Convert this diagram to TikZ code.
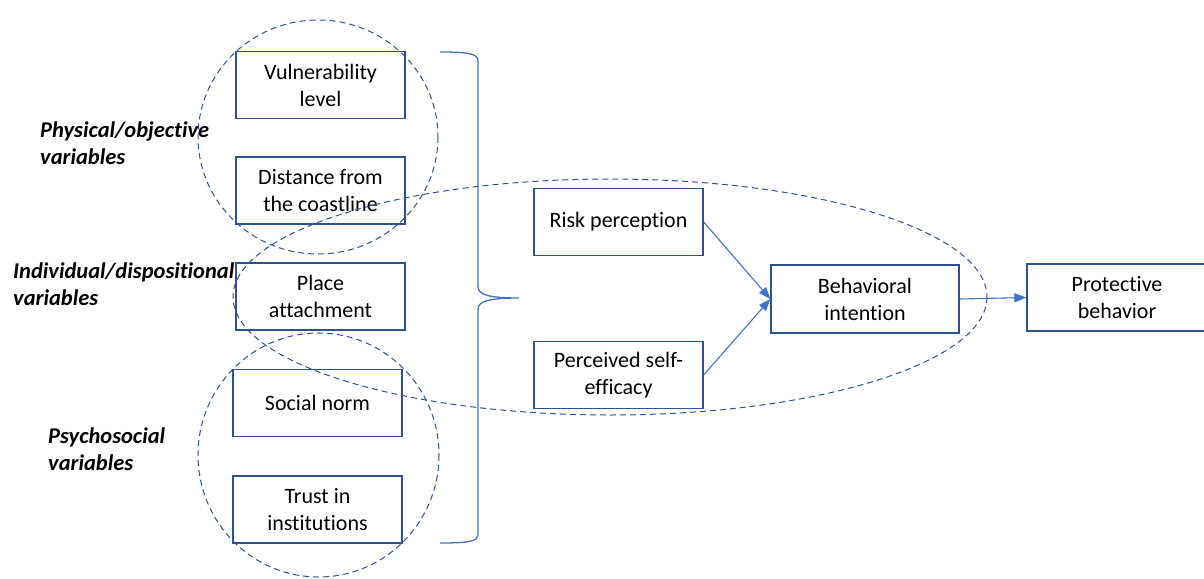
\documentclass[tikz,border=0pt]{standalone}
\usepackage{fontspec}
\setmainfont{Carlito}[RawFeature=-liga]
\usetikzlibrary{arrows.meta}
\definecolor{boxc}{HTML}{2F528F}
\definecolor{arrc}{HTML}{4472C4}
\definecolor{dashc}{HTML}{2F528F}
\begin{document}
\begin{tikzpicture}[x=1pt,y=-1pt,
  every node/.style={font=\fontsize{22}{27}\selectfont},
  varbox/.style={draw=boxc, line width=1.3pt, minimum width=169pt, minimum height=67pt, align=center, inner sep=0pt},
  grouplabel/.style={anchor=west, align=left, inner sep=0pt, font=\fontsize{22.5}{27}\selectfont\bfseries\itshape},
  conn/.style={draw=arrc, line width=1.1pt, -{Triangle[length=12pt,width=9pt]}},
  groupline/.style={draw=dashc, line width=1pt, dash pattern=on 6pt off 4pt},
  bracec/.style={draw=arrc, line width=1.3pt}]
\useasboundingbox (0,0) rectangle (1204,578);

% left column boxes
\node[varbox] (vul) at (320.5,85) {Vulnerability\\level};
\node[varbox] (dist) at (320.5,190.5) {Distance from\\the coastline};
\node[varbox] (place) at (320.5,296.5) {Place\\attachment};
\node[varbox] (social) at (317.5,403) {Social norm};
\node[varbox] (trust) at (317.5,509.5) {Trust in\\institutions};

% middle boxes
\node[varbox] (risk) at (618.5,222) {Risk perception};
\node[varbox] (self) at (618.5,375) {Perceived self-\\efficacy};
\node[varbox, minimum width=188pt, minimum height=68pt] (bi) at (865,299) {Behavioral\\intention};
\node[varbox, minimum width=180pt] (pb) at (1117,297.5) {Protective\\behavior};

% group labels
\node[grouplabel] (lphys) at (40,143.5) {Physical/objective\\variables};
\node[grouplabel] (lind) at (13,284) {Individual/dispositional\\variables};
\node[grouplabel] (lpsy) at (48,449.5) {Psychosocial\\variables};

% dashed groupings
\draw[groupline] (318,137) ellipse [x radius=120, y radius=117];
\draw[groupline] (318.5,455) ellipse [x radius=120.5, y radius=122];
\draw[groupline] (610,297) ellipse [x radius=377, y radius=118];

% brace
\coordinate (btip) at (519,298);
\draw[bracec] (440,52) .. controls (470,52) and (478,54) .. (478,61) -- (478,287)
  .. controls (478,295) and (490,298) .. (btip)
  .. controls (490,298) and (478,301) .. (478,309) -- (478,535)
  .. controls (478,541) and (470,543) .. (440,543);

% connectors
\draw[conn] (risk.east) -- (bi.west);
\draw[conn] (self.east) -- (bi.west);
\draw[conn] (bi.east) -- (pb.west);
\end{tikzpicture}
\end{document}
